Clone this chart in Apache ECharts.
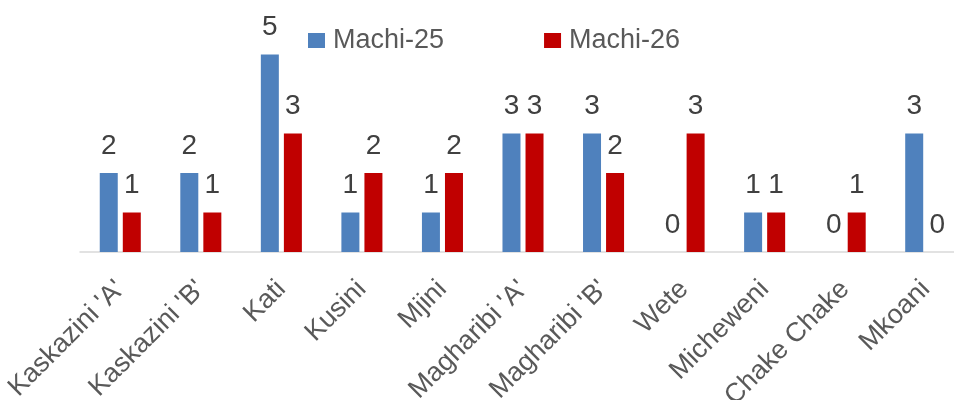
<!DOCTYPE html>
<html>
<head>
<meta charset="utf-8">
<script src="https://cdn.jsdelivr.net/npm/echarts@6/dist/echarts.min.js"></script>
<style>
  html, body { margin: 0; padding: 0; background: #fff; }
  #chart { width: 954px; height: 400px; }
</style>
</head>
<body>
<div id="chart"></div>
<script>
const categories = ["Kaskazini 'A'", "Kaskazini 'B'", 'Kati', 'Kusini', 'Mjini', "Magharibi 'A'", "Magharibi 'B'", 'Wete', 'Micheweni', 'Chake Chake', 'Mkoani']
const machi25 = [2, 2, 5, 1, 1, 3, 3, 0, 1, 0, 3]
const machi26 = [1, 1, 3, 2, 2, 3, 2, 3, 1, 1, 0]

const FONT = "'Liberation Sans', Arial, sans-serif"

const chart = echarts.init(document.getElementById('chart'))

const valueLabel = {
  show: true,
  position: 'top',
  distance: 13,
  fontFamily: FONT,
  fontSize: 28,
  color: '#404040'
}

chart.setOption({
  animation: false,
  textStyle: { fontFamily: FONT },
  legend: {
    left: 308,
    top: 27,
    padding: 0,
    itemWidth: 17,
    itemHeight: 15,
    itemGap: 100,
    icon: 'rect',
    textStyle: { fontFamily: FONT, fontSize: 27, color: '#595959', padding: [0, 0, 0, 3] },
    data: ['Machi-25', 'Machi-26']
  },
  grid: { left: 80, top: 15, width: 886, height: 237, containLabel: false, outerBoundsMode: 'none' },
  xAxis: {
    type: 'category',
    data: categories,
    axisLine: { lineStyle: { color: '#D9D9D9', width: 1.5 } },
    axisTick: { show: false },
    axisLabel: {
      rotate: 45,
      interval: 0,
      margin: 33,
      fontFamily: FONT,
      fontSize: 27,
      color: '#595959'
    }
  },
  yAxis: { type: 'value', min: 0, max: 6, show: false },
  series: [
    {
      name: 'Machi-25',
      type: 'bar',
      barWidth: 18,
      barGap: '28%',
      itemStyle: { color: '#4F81BD' },
      label: valueLabel,
      data: machi25
    },
    {
      name: 'Machi-26',
      type: 'bar',
      barWidth: 18,
      barGap: '28%',
      itemStyle: { color: '#C00000' },
      label: valueLabel,
      data: machi26
    }
  ]
})
</script>
</body>
</html>
